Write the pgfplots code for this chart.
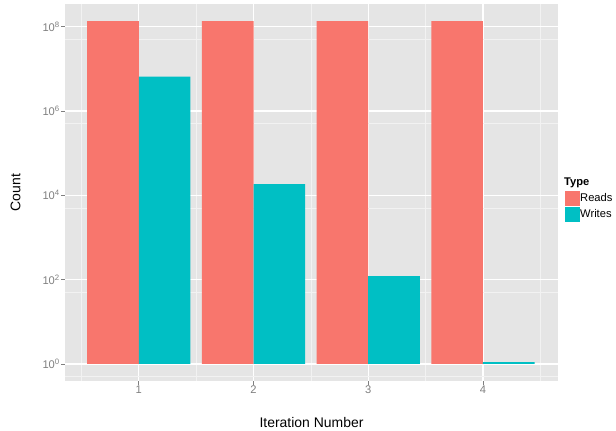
\documentclass[border=0pt]{standalone}
\usepackage{pgfplots}
\pgfplotsset{compat=1.18}
\usepackage{fontspec}
\setmainfont{Liberation Sans}
\definecolor{reads}{HTML}{F8766D}
\definecolor{writes}{HTML}{00BFC4}
\definecolor{panel}{HTML}{E5E5E5}
\definecolor{minorgrid}{HTML}{F2F2F2}
\definecolor{ticklab}{HTML}{7F7F7F}
\begin{document}
\begin{tikzpicture}
\path[use as bounding box] (-65bp,-50bp) rectangle (551bp,381bp);
\begin{axis}[
  at={(0,0)}, anchor=south west,
  width=493bp, height=377bp, scale only axis,
  xmin=0.357, xmax=4.654,
  ymode=log, ymin=0.395, ymax=3.45e8,
  axis background/.style={fill=panel},
  axis line style={draw=none},
  xtick={1,2,3,4}, xticklabels={1,2,3,4},
  minor xtick={0.5,1.5,2.5,3.5,4.5},
  ytick={1,100,10000,1000000,100000000},
  yticklabels={10\textsuperscript{0},10\textsuperscript{2},10\textsuperscript{4},10\textsuperscript{6},10\textsuperscript{8}},
  minor ytick={0.5,50,5000,500000,50000000},
  grid=both,
  major grid style={white, line width=1.1bp},
  minor grid style={minorgrid, line width=0.55bp},
  tick align=outside, major tick length=3.5bp, minor tick length=0pt,
  tick style={ticklab, line width=0.8bp},
  xtick pos=bottom, ytick pos=left,
  ticklabel style={font=\fontsize{11.2}{13}\selectfont, text=ticklab},
  xticklabel style={inner sep=1.5bp},
  yticklabel style={inner sep=1.5bp},
  xlabel={Iteration Number}, ylabel={Count},
  label style={font=\fontsize{14}{16}\selectfont},
  xlabel style={at={(axis description cs:0.5,-0.1088)}, anchor=center},
  ylabel style={at={(axis description cs:-0.1004,0.5)}, anchor=center},
  legend style={at={(axis description cs:1.0142,0.5053)}, anchor=north west,
    draw=none, fill=none, inner sep=0pt, row sep=0.8bp,
    font=\fontsize{11.2}{13}\selectfont, nodes={inner sep=0pt, anchor=west},
    /tikz/every even column/.append style={column sep=2bp}},
  legend cell align=left,
  legend image code/.code={\fill[#1] (0bp,-7.5bp) rectangle (15bp,7.5bp);},
]
\addplot[ybar, bar width=0.45, bar shift=-0.225, fill=reads, draw=none]
  coordinates {(1,1.36e8) (2,1.36e8) (3,1.36e8) (4,1.36e8)};
\addlegendentry{Reads}
\addplot[ybar, bar width=0.45, bar shift=0.225, fill=writes, draw=none]
  coordinates {(1,6.5e6) (2,1.85e4) (3,122) (4,1.1)};
\addlegendentry{Writes}
\end{axis}
\node[anchor=west, font=\bfseries\fontsize{11.2}{13}\selectfont, inner sep=0pt] at (499bp,197.7bp) {Type};
\end{tikzpicture}
\end{document}
